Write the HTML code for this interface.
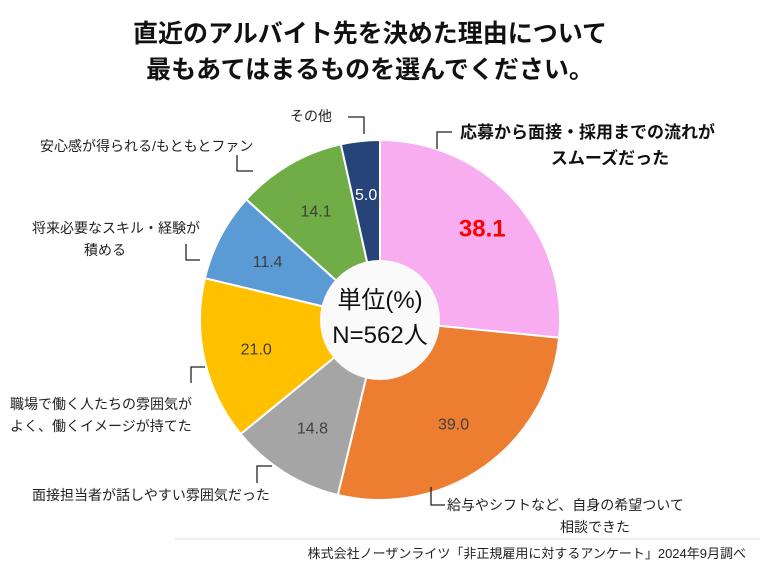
<!DOCTYPE html>
<html><head><meta charset="utf-8"><style>
body{margin:0;background:#fff;}
svg{display:block;font-family:"Liberation Sans","Noto Sans CJK JP",sans-serif;}
</style></head><body>
<svg id="chart" width="760" height="570" viewBox="0 0 760 570">
<rect width="760" height="570" fill="#fff"/>
<text x="370" y="42" text-anchor="middle" font-size="25" font-weight="bold" fill="#111">直近のアルバイト先を決めた理由について</text>
<text x="370" y="78" text-anchor="middle" font-size="25" font-weight="bold" fill="#111">最もあてはまるものを選んでください。</text>
<g id="slices"></g>
<circle cx="380" cy="320" r="60" fill="#fafafa"/>
<text x="380" y="308" text-anchor="middle" font-size="24" fill="#111">単位(%)</text>
<text x="380" y="343" text-anchor="middle" font-size="24" fill="#111">N=562人</text>
<g id="labels"></g>
<g stroke="#222" stroke-width="1.3" fill="none">
<polyline points="348,117 364,117 364,134"/>
<polyline points="237,155 237,171 253,171"/>
<polyline points="186,244 186,260 200,260"/>
<polyline points="205,367 191,367 191,383"/>
<polyline points="272,466 257,466 257,483"/>
<polyline points="431,487 431,505 445,505"/>
<polyline points="452,132 437,132 437,149"/>
</g>
<g font-size="14" fill="#222">
<text x="290" y="121">その他</text>
<text x="40" y="151">安心感が得られる/もともとファン</text>
<text x="200" y="233" text-anchor="end">将来必要なスキル・経験が</text>
<text x="105" y="255" text-anchor="middle">積める</text>
<text x="10" y="409">職場で働く人たちの雰囲気が</text>
<text x="10" y="431">よく、働くイメージが持てた</text>
<text x="32" y="500">面接担当者が話しやすい雰囲気だった</text>
<text x="447" y="510">給与やシフトなど、自身の希望ついて</text>
<text x="595" y="532" text-anchor="middle">相談できた</text>
</g>
<text x="460" y="138" font-size="17" font-weight="bold" fill="#111">応募から面接・採用までの流れが</text>
<text x="610" y="164" font-size="17" font-weight="bold" fill="#111" text-anchor="middle">スムーズだった</text>
<line x1="175" y1="539" x2="760" y2="539" stroke="#ddd" stroke-width="1"/>
<text x="746" y="558" text-anchor="end" font-size="13" fill="#222">株式会社ノーザンライツ「非正規雇用に対するアンケート」2024年9月調べ</text>
</svg>
<script>
const categories = ["応募から面接・採用までの流れがスムーズだった","給与やシフトなど、自身の希望ついて相談できた","面接担当者が話しやすい雰囲気だった","職場で働く人たちの雰囲気がよく、働くイメージが持てた","将来必要なスキル・経験が積める","安心感が得られる/もともとファン","その他"];
const values = [38.1, 39.0, 14.8, 21.0, 11.4, 14.1, 5.0];
const valueLabels = ["38.1","39.0","14.8","21.0","11.4","14.1","5.0"];
const colors = ["#f7adf0","#ed7d31","#a5a5a5","#ffc000","#5b9bd5","#70ad47","#264478"];
const NS="http://www.w3.org/2000/svg";
const cx=380, cy=320, R=180;
const total=values.reduce((a,b)=>a+b,0);
function pt(a,r){return [cx+r*Math.sin(a), cy-r*Math.cos(a)];}
const gS=document.getElementById('slices'), gL=document.getElementById('labels');
let a0=0;
values.forEach((v,i)=>{
  const a1=a0+v/total*2*Math.PI;
  const p0=pt(a0,R), p1=pt(a1,R);
  const large=(a1-a0)>Math.PI?1:0;
  const path=document.createElementNS(NS,'path');
  path.setAttribute('d',`M${cx},${cy} L${p0[0]},${p0[1]} A${R},${R} 0 ${large} 1 ${p1[0]},${p1[1]} Z`);
  path.setAttribute('fill',colors[i]);
  path.setAttribute('stroke','#fff');
  path.setAttribute('stroke-width','2');
  
  
  gS.appendChild(path);
  const m=(a0+a1)/2;
  const lp=pt(m, i===0?138:127);
  const t=document.createElementNS(NS,'text');
  t.setAttribute('x',lp[0]); t.setAttribute('y',lp[1]+6);
  t.setAttribute('text-anchor','middle');
  if(i===0){t.setAttribute('font-size','24');t.setAttribute('font-weight','bold');t.setAttribute('fill','#ff0000');t.setAttribute('y',lp[1]+9);}
  else{t.setAttribute('font-size','16');t.setAttribute('fill',i===6?'#fff':'#404040');}
  t.textContent=valueLabels[i];
  
  
  gL.appendChild(t);
  a0=a1;
});
</script>
</body></html>
